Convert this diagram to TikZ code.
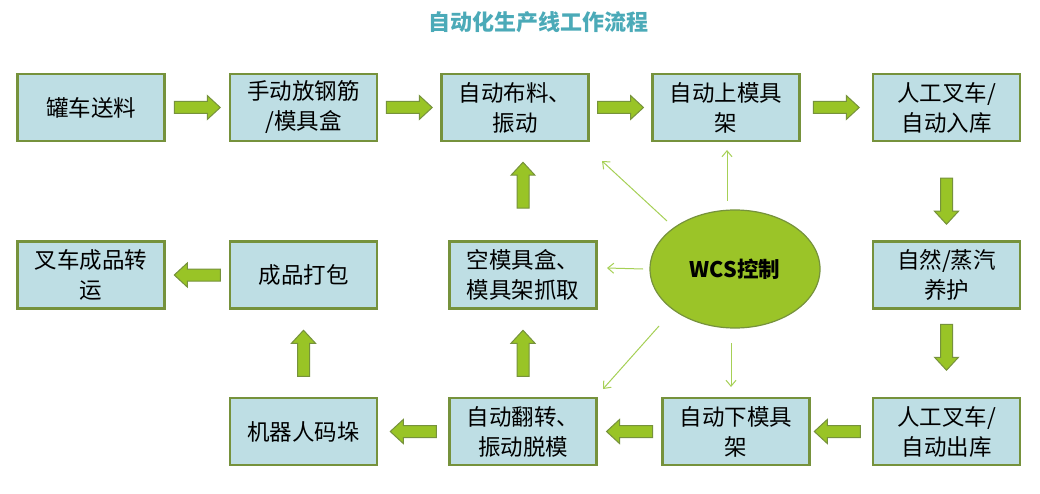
\documentclass[tikz,border=0pt]{standalone}
\usepackage{fontspec}
\newfontfamily\cjk{Noto Sans CJK SC}
\usetikzlibrary{arrows.meta,calc,shapes.geometric}
\definecolor{boxfill}{RGB}{190,222,228}
\definecolor{boxline}{RGB}{118,146,60}
\definecolor{arrfill}{RGB}{153,196,38}
\definecolor{thinclr}{RGB}{166,208,86}
\definecolor{titleclr}{RGB}{75,170,184}
\definecolor{ellfill}{RGB}{155,196,40}
\tikzset{
 box/.style={draw=boxline, line width=2.5pt, fill=boxfill, minimum width=147pt, minimum height=67pt, inner sep=0pt, align=center, font=\cjk\fontsize{22.5}{30}\selectfont},
 barrow/.style={draw=boxline, line width=1pt, fill=arrfill, line join=miter},
 thinarrow/.style={draw=thinclr, line width=1pt, -{Straight Barb[length=6pt,width=10pt]}},
}
\newcommand\blockarr[2]{%
 \draw[barrow, shift={#1}, rotate=#2] (-23pt,-6pt) -- (10pt,-6pt) -- (10pt,-12pt) -- (23pt,0pt) -- (10pt,12pt) -- (10pt,6pt) -- (-23pt,6pt) -- cycle;}
\begin{document}
\begin{tikzpicture}[x=1pt,y=-1pt]
\fill[white] (0,0) rectangle (1040,494);
\useasboundingbox (0,0) rectangle (1040,494);
\node[font=\cjk\bfseries\fontsize{22}{24}\selectfont, text=titleclr] (title) at (538.5,22) {自动化生产线工作流程};
% row 1
\node[box] (n1) at (91,107.5) {罐车送料};
\node[box] (n2) at (303.5,107.5) {手动放钢筋\\/模具盒};
\node[box] (n3) at (515,107.5) {自动布料、\\振动};
\node[box] (n4) at (726,107.5) {自动上模具\\架};
\node[box] (n5) at (946.5,107.5) {人工叉车/\\自动入库};
% row 2
\node[box] (m1) at (91,275) {叉车成品转\\运};
\node[box] (m2) at (303.5,275) {成品打包};
\node[box] (m3) at (523,275) {空模具盒、\\模具架抓取};
\node[box] (m5) at (946.5,275) {自然/蒸汽\\养护};
\node[ellipse, draw=boxline, line width=1.2pt, fill=ellfill, minimum width=170pt, minimum height=118pt, inner sep=0pt, font=\cjk\bfseries\fontsize{21.5}{24}\selectfont] (wcs) at (735,269) {WCS控制};
% row 3
\node[box] (r2) at (303.5,431.5) {机器人码垛};
\node[box] (r3) at (523,431.5) {自动翻转、\\振动脱模};
\node[box] (r4) at (736,431.5) {自动下模具\\架};
\node[box] (r5) at (946.5,431.5) {人工叉车/\\自动出库};
% block arrows
\blockarr{($(n1.east)!0.5!(n2.west)$)}{0}
\blockarr{($(n2.east)!0.5!(n3.west)$)}{0}
\blockarr{($(n3.east)!0.5!(n4.west)$)}{0}
\blockarr{($(n4.east)!0.5!(n5.west)$)}{0}
\blockarr{($(n5.south)!0.5!(m5.north)+(0,10)$)}{-90}
\blockarr{($(m5.south)!0.5!(r5.north)+(0,-6)$)}{-90}
\blockarr{($(r5.west)!0.5!(r4.east)+(-4,0)$)}{180}
\blockarr{($(r4.west)!0.5!(r3.east)$)}{180}
\blockarr{($(r3.west)!0.5!(r2.east)$)}{180}
\blockarr{($(r2.north)!0.5!(m2.north |- m2.south)$)}{90}
\blockarr{($(r3.north)!0.5!(m3.south)$)}{90}
\blockarr{($(m3.north)!0.5!(n3.south -| m3.north)+(0,-6)$)}{90}
\blockarr{($(m2.west)!0.5!(m1.east)$)}{180}
% thin arrows from WCS
\coordinate (s1) at (667,221); \coordinate (e1) at (602,161);
\coordinate (s2) at (727,201); \coordinate (e2) at (727,150);
\coordinate (s3) at (643,269); \coordinate (e3) at (607,268);
\coordinate (s4) at (659,326); \coordinate (e4) at (603,389);
\coordinate (s5) at (731,343); \coordinate (e5) at (731,387);
\draw[thinarrow] (s1) -- (e1);
\draw[thinarrow] (s2) -- (e2);
\draw[thinarrow] (s3) -- (e3);
\draw[thinarrow] (s4) -- (e4);
\draw[thinarrow] (s5) -- (e5);
\end{tikzpicture}
\end{document}
